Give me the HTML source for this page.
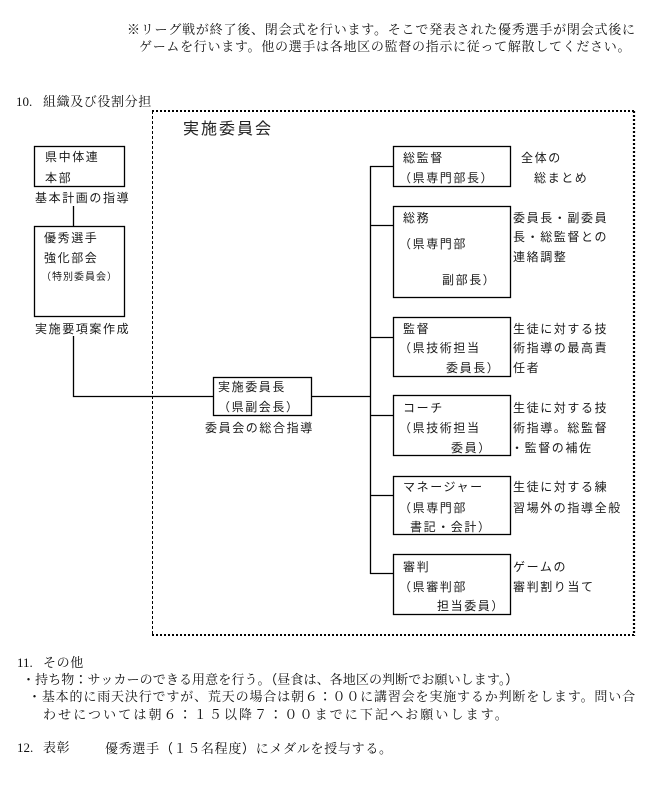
<!DOCTYPE html>
<html><head><meta charset="utf-8">
<style>
html,body{margin:0;padding:0;background:#fff;}
body{width:658px;height:789px;position:relative;overflow:hidden;color:#111;}
.t{position:absolute;white-space:nowrap;line-height:18px;height:18px;}
.s{font-family:"Liberation Serif","Noto Serif CJK SC",serif;font-size:13px;}
.d{font-family:"Liberation Sans","Noto Sans CJK JP",sans-serif;font-size:12px;letter-spacing:1.6px;color:#1a1a1a;}
.j{font-family:"Noto Sans CJK JP",sans-serif;}
svg{position:absolute;left:0;top:0;}
</style></head><body>
<svg width="658" height="789" viewBox="0 0 658 789">
  <g fill="none" stroke="#000" stroke-width="1.5">
    <line x1="152" y1="111" x2="635" y2="111" stroke-width="2" stroke-dasharray="2 2"/>
    <line x1="634" y1="111" x2="634" y2="636" stroke-width="2.2" stroke-dasharray="2 2"/>
    <line x1="152" y1="635" x2="635" y2="635" stroke-width="2" stroke-dasharray="2 2"/>
    <line x1="152.5" y1="111" x2="152.5" y2="636" stroke-width="1" stroke-dasharray="3 2"/>
  </g>
  <g fill="none" stroke="#000" stroke-width="1.3">
    <rect x="34.5" y="146.5" width="90" height="40"/>
    <line x1="73.5" y1="206" x2="73.5" y2="226"/>
    <rect x="34.5" y="226.5" width="90" height="90"/>
    <polyline points="73.5,336 73.5,396.5 213,396.5"/>
    <rect x="213.5" y="377.5" width="98" height="38"/>
    <line x1="312" y1="396.5" x2="370" y2="396.5"/>
    <line x1="370.5" y1="166" x2="370.5" y2="574"/>
    <line x1="370" y1="166.5" x2="393" y2="166.5"/>
    <line x1="370" y1="225.5" x2="393" y2="225.5"/>
    <line x1="370" y1="337.5" x2="393" y2="337.5"/>
    <line x1="370" y1="415.5" x2="393" y2="415.5"/>
    <line x1="370" y1="495.5" x2="393" y2="495.5"/>
    <line x1="370" y1="573.5" x2="393" y2="573.5"/>
    <rect x="393.5" y="146.5" width="117" height="40"/>
    <rect x="393.5" y="206.5" width="117" height="91"/>
    <rect x="393.5" y="317.5" width="117" height="59"/>
    <rect x="393.5" y="395.5" width="117" height="60"/>
    <rect x="393.5" y="476.5" width="117" height="58"/>
    <rect x="393.5" y="554.5" width="117" height="60"/>
  </g>
</svg>

<div class="t s" style="left:127px;top:21px;letter-spacing:0.78px;">※リーグ戦が終了後、閉会式を行います。そこで発表された優秀選手が閉会式後に</div>
<div class="t s" style="left:139px;top:38px;letter-spacing:0.7px;">ゲームを行います。他の選手は各地区の監督の指示に従って解散してください。</div>

<div class="t s" style="left:16px;top:93px;">10.</div>
<div class="t s" style="left:43px;top:93px;letter-spacing:0.6px;">組織及び役割分担</div>

<div class="t" style="left:183px;top:120px;font-family:'Liberation Sans','Noto Sans CJK JP',sans-serif;font-size:16px;letter-spacing:2px;line-height:20px;color:#222;">実施委員会</div>

<div class="t d" style="left:45px;top:148px;">県中体連</div>
<div class="t d" style="left:45px;top:169px;">本部</div>
<div class="t d" style="left:35px;top:189px;">基本計画の指導</div>
<div class="t d" style="left:44px;top:229px;">優秀選手</div>
<div class="t d" style="left:44px;top:249px;">強化部会</div>
<div class="t d" style="left:41px;top:269px;font-size:10px;letter-spacing:1px;">（特別委員会）</div>
<div class="t d" style="left:35px;top:320px;">実施要項案作成</div>

<div class="t d" style="left:218px;top:378px;">実施委員長</div>
<div class="t d" style="left:218px;top:398px;">（県副会長）</div>
<div class="t d" style="left:205px;top:419px;">委員会の総合指導</div>

<div class="t d" style="left:403px;top:149px;">総監督</div>
<div class="t d" style="left:399px;top:169px;">（県専門部長）</div>

<div class="t d" style="left:403px;top:209px;">総務</div>
<div class="t d" style="left:399px;top:235px;">（県専門部</div>
<div class="t d" style="left:442px;top:271px;">副部長）</div>

<div class="t d" style="left:403px;top:320px;">監督</div>
<div class="t d" style="left:399px;top:339px;">（県技術担当</div>
<div class="t d" style="left:446px;top:359px;">委員長）</div>

<div class="t d" style="left:403px;top:399px;">コーチ</div>
<div class="t d" style="left:399px;top:419px;">（県技術担当</div>
<div class="t d" style="left:451px;top:439px;">委員）</div>

<div class="t d" style="left:403px;top:478px;">マネージャー</div>
<div class="t d" style="left:399px;top:499px;">（県専門部</div>
<div class="t d" style="left:410px;top:518px;">書記・会計）</div>

<div class="t d" style="left:403px;top:558px;">審判</div>
<div class="t d" style="left:399px;top:578px;">（県審判部</div>
<div class="t d" style="left:437px;top:597px;">担当委員）</div>

<div class="t d" style="left:521px;top:149px;">全体の</div>
<div class="t d" style="left:534px;top:169px;">総まとめ</div>
<div class="t d" style="left:513px;top:209px;">委員長・副委員</div>
<div class="t d" style="left:513px;top:228px;">長・総監督との</div>
<div class="t d" style="left:513px;top:248px;">連絡調整</div>
<div class="t d" style="left:513px;top:320px;">生徒に対する技</div>
<div class="t d" style="left:513px;top:339px;">術指導の最高責</div>
<div class="t d" style="left:513px;top:359px;">任者</div>
<div class="t d" style="left:513px;top:399px;">生徒に対する技</div>
<div class="t d" style="left:513px;top:419px;">術指導。総監督</div>
<div class="t d" style="left:511px;top:439px;">・監督の補佐</div>
<div class="t d" style="left:513px;top:478px;">生徒に対する練</div>
<div class="t d" style="left:513px;top:499px;">習場外の指導全般</div>
<div class="t d" style="left:513px;top:558px;">ゲームの</div>
<div class="t d" style="left:513px;top:578px;">審判割り当て</div>

<div class="t s" style="left:17px;top:654px;">11.</div>
<div class="t s" style="left:43px;top:654px;letter-spacing:0.6px;">その他</div>
<div class="t s" style="left:22px;top:670px;letter-spacing:0.1px;">・持ち物<span class="j">：</span>サッカーのできる用意を行う。<span class="j">（</span>昼食は、各地区の判断でお願いします。<span class="j">）</span></div>
<div class="t s" style="left:28px;top:687px;letter-spacing:0.84px;">・基本的に雨天決行ですが、荒天の場合は朝６<span class="j">：</span>００に講習会を実施するか判断をします。問い合</div>
<div class="t s" style="left:43px;top:705px;letter-spacing:2.1px;">わせについては朝６<span class="j">：</span>１５以降７<span class="j">：</span>００までに下記へお願いします。</div>

<div class="t s" style="left:17px;top:739px;">12.</div>
<div class="t s" style="left:43px;top:739px;letter-spacing:0.6px;">表彰</div>
<div class="t s" style="left:105px;top:739px;letter-spacing:0.7px;">優秀選手<span class="j">（</span>１５名程度<span class="j">）</span>にメダルを授与する。</div>
</body></html>
